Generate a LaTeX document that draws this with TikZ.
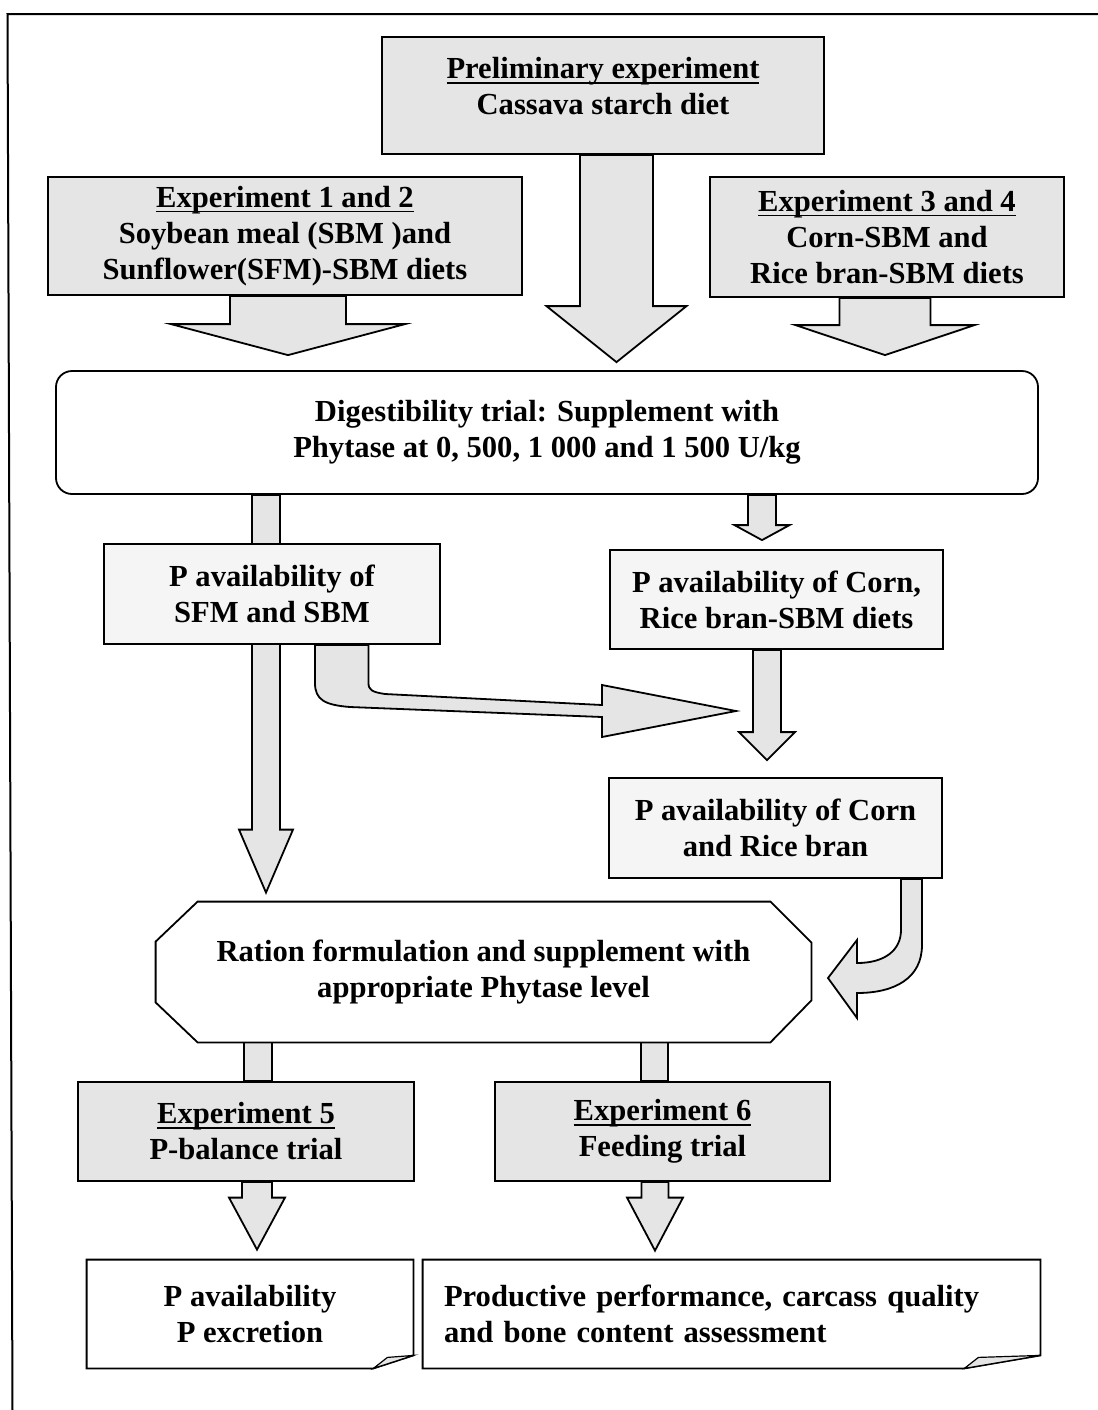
\documentclass[tikz,border=0pt]{standalone}
\usepackage{fontspec}
\setmainfont{Liberation Serif}
\usetikzlibrary{calc, positioning, backgrounds}

\newcommand{\labelfont}{\bfseries\fontsize{15.3}{18}\selectfont}
\newcommand{\expline}[1]{\setbox0=\hbox{#1}\rlap{\rule[-2.4pt]{\wd0}{0.8pt}}\box0}
% block arrow pointing down: x, from, to, gap, half stem, half head, head length
\newcommand{\fatdown}[7]{%
  \draw[fatbody] (#1-#5,0 |- #2.south)
    -- ($(#1-#5,0 |- #3.north)+(0,-#4-#7)$) -- ++(#5-#6,0)
    -- ($(#1,0 |- #3.north)+(0,-#4)$)
    -- ($(#1+#6,0 |- #3.north)+(0,-#4-#7)$) -- ++(#5-#6,0)
    -- (#1+#5,0 |- #2.south) -- cycle;}

\tikzset{
  greybox/.style={draw, line width=0.9pt, fill=gray!20, inner sep=0pt, align=center, font=\labelfont},
  palebox/.style={greybox, fill=gray!8},
  plainbox/.style={inner sep=0pt, align=center, font=\labelfont},
  fatbody/.style={draw, line width=0.9pt, fill=gray!20, line join=miter},
  outline/.style={draw, line width=0.9pt}
}

\begin{document}
\begin{tikzpicture}[x=0.5pt,y=-0.5pt]
  \useasboundingbox (0,0) rectangle (1098,1410);
  \draw[line width=1pt] (12.5,1410) -- (7.5,14) -- (1098,14);

  % top row
  \node[greybox, minimum width=221pt, minimum height=58.5pt] (prelim) at (603,95.5) {};
  \node[plainbox, below=10.5pt of prelim.north] (prelimtext)
    {\expline{Preliminary experiment}\\Cassava starch diet};
  \node[greybox, minimum width=237pt, minimum height=59pt] (exp12) at (285,236)
    {\expline{Experiment 1 and 2}\\Soybean meal (SBM )and\\Sunflower(SFM)-SBM diets};
  \node[greybox, minimum width=177pt, minimum height=60pt] (exp34) at (887,237)
    {\expline{Experiment 3 and 4}\\Corn-SBM and\\Rice bran-SBM diets};

  % digestibility trial
  \node[draw, line width=0.9pt, fill=white, rounded corners=8pt, inner sep=0pt, align=center,
        font=\labelfont, minimum width=491pt, minimum height=61.5pt] (digest) at (547,432.5)
    {Digestibility trial: Supplement with\\Phytase at 0, 500, 1 000 and 1 500 U/kg};

  % availability boxes
  \node[palebox, minimum width=168pt, minimum height=50pt] (sfm) at (272,594)
    {P availability of\\SFM and SBM};
  \node[palebox, minimum width=166.5pt, minimum height=49.5pt] (cornsbm) at (776.5,599.5)
    {P availability of Corn,\\Rice bran-SBM diets};
  \node[palebox, minimum width=166.5pt, minimum height=50pt] (cornrice) at (775.5,828)
    {P availability of Corn\\and Rice bran};

  % ration formulation
  \node[plainbox, minimum width=327.5pt, minimum height=70pt] (ration) at (483.5,972)
    {Ration formulation and supplement with\\appropriate Phytase level};
  \draw[outline] ($(ration.north west)+(42,0)$) -- ($(ration.north east)+(-41,0)$)
    -- ($(ration.north east)+(0,41)$) -- ($(ration.south east)+(0,-42)$)
    -- ($(ration.south east)+(-41,0)$) -- ($(ration.south west)+(42,0)$)
    -- ($(ration.south west)+(0,-40)$) -- ($(ration.north west)+(0,40)$) -- cycle;

  % experiments 5 and 6
  \node[greybox, minimum width=168pt, minimum height=49.5pt] (exp5) at (246,1131.5)
    {\expline{Experiment 5}\\P-balance trial};
  \node[greybox, minimum width=167.5pt, minimum height=49.5pt] (exp6) at (662.5,1131.5)
    {\expline{Experiment 6}\\Feeding trial};

  % outcome notes
  \node[plainbox, minimum width=163pt, minimum height=54pt] (noteL) at (250,1314)
    {P availability\\P excretion};
  \node[plainbox, align=left, inner xsep=10.5pt, text width=287.5pt, minimum height=54pt] (noteR) at (731.5,1314)
    {Productive performance, carcass quality\\and bone content assessment};
  \foreach \n/\c in {noteL/40, noteR/76} {
    \draw[outline] (\n.north west) -- (\n.north east) -- ($(\n.south east)+(0,-13)$)
      -- ($(\n.south east)+(-\c,0)$) -- (\n.south west) -- cycle;
    \draw[outline, fill=gray!20, line width=0.6pt] ($(\n.south east)+(-\c,0)$)
      -- ($(\n.south east)+(-\c+14,-11)$) -- ($(\n.south east)+(0,-13)$) -- cycle;
  }

  \begin{scope}[on background layer]
    \fatdown{616.5}{prelim}{digest}{8}{36.5}{70}{56}
    \fatdown{288}{exp12}{digest}{15}{58}{117}{31}
    \fatdown{885}{exp34}{digest}{15}{45.5}{89.5}{30}
    \fatdown{266}{digest}{ration}{9}{14}{27}{63}
    \fatdown{762}{digest}{cornsbm}{9}{14}{27.5}{15}
    \fatdown{767}{cornsbm}{cornrice}{17}{14}{28}{28}
    \fatdown{257}{exp5}{noteL}{10}{15}{28}{52}
    \fatdown{655}{exp6}{noteR}{9}{13.5}{28}{53}
    \draw[fatbody] (244,0 |- ration.south) rectangle (272,0 |- exp5.north);
    \draw[fatbody] (641,0 |- ration.south) rectangle (668,0 |- exp6.north);
    % bent arrow to the right
    \draw[fatbody] (315,0 |- sfm.south) -- (315,683)
      .. controls (315,700) and (325,705) .. (350,707) -- (602,717)
      -- (602,737) -- (736,711) -- (602,685) -- (602,705) -- (385,694)
      .. controls (372,692) and (368.5,690) .. (368.5,683) -- (368.5,0 |- sfm.south) -- cycle;
    % bent arrow back to the left
    \draw[fatbody] (922,0 |- cornrice.south) -- (922,945)
      .. controls (922,978) and (895,993) .. (857,993) -- (857,1018) -- (828,978)
      -- (857,940) -- (857,963) .. controls (885,963) and (901,950) .. (901,930)
      -- (901,0 |- cornrice.south) -- cycle;
  \end{scope}
\end{tikzpicture}
\end{document}
